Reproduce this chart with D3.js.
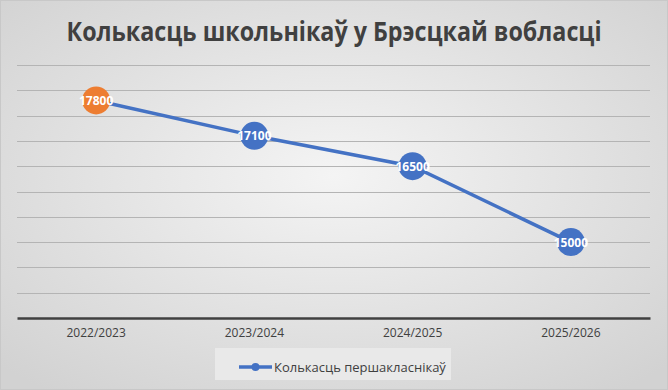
<!DOCTYPE html>
<html>
<head>
<meta charset="utf-8">
<script src="https://cdn.jsdelivr.net/npm/d3@7"></script>
<style>
  body { margin: 0; }
  svg { display: block; }
</style>
</head>
<body>
<svg id="chart" width="668" height="390"></svg>
<script>
const years = ['2022/2023', '2023/2024', '2024/2025', '2025/2026'];
const pupils = [17800, 17100, 16500, 15000];
const yTicks = [13500, 14000, 14500, 15000, 15500, 16000, 16500, 17000, 17500, 18000, 18500];
const seriesName = 'Колькасць першакласнікаў';
const title = 'Колькасць школьнікаў у Брэсцкай вобласці';

const svg = d3.select('#chart');
const W = +svg.attr('width'), H = +svg.attr('height');
const margin = {top: 65, right: 18, bottom: 72, left: 17};

const defs = svg.append('defs');
const grad = defs.append('radialGradient').attr('id', 'bg')
  .attr('cx', '50%').attr('cy', '45%').attr('r', '70%');
grad.append('stop').attr('offset', '0%').attr('stop-color', '#f4f4f4');
grad.append('stop').attr('offset', '100%').attr('stop-color', '#d2d2d2');

svg.append('rect').attr('x', 0.5).attr('y', 0.5).attr('width', W - 1).attr('height', H - 1)
  .attr('fill', 'url(#bg)').attr('stroke', '#c8c8c8');

svg.append('text')
  .attr('x', W / 2).attr('y', 41)
  .attr('text-anchor', 'middle')
  .style('font-family', '"Open Sans", "Noto Sans", sans-serif')
  .style('font-weight', 'bold')
  .style('font-size', '26px')
  .attr('textLength', 535).attr('lengthAdjust', 'spacingAndGlyphs')
  .attr('fill', '#404040')
  .text(title);

const x = d3.scaleBand().domain(years).range([margin.left, W - margin.right]);
const y = d3.scaleLinear().domain([13500, 18500]).range([H - margin.bottom, margin.top]);

// gridlines
svg.append('g').selectAll('line')
  .data(yTicks.slice(1))
  .enter().append('line')
  .attr('x1', margin.left).attr('x2', W - margin.right)
  .attr('y1', d => Math.round(y(d)) + 0.5).attr('y2', d => Math.round(y(d)) + 0.5)
  .attr('stroke', '#b4b4b4').attr('stroke-width', 1);

// x axis
const xAxis = svg.append('g')
  .attr('transform', 'translate(0,' + y(13500) + ')')
  .call(d3.axisBottom(x).tickSize(0).tickPadding(10));
xAxis.select('.domain').attr('stroke', '#404040').attr('stroke-width', 2.5);
xAxis.selectAll('text')
  .style('font-family', '"Open Sans", "Noto Sans", sans-serif')
  .style('font-size', '12px')
  .attr('fill', '#404040');

const cx = d => x(d) + x.bandwidth() / 2;

const line = d3.line().x((d, i) => cx(years[i])).y(d => y(d));
svg.append('path').datum(pupils)
  .attr('d', line).attr('fill', 'none')
  .attr('stroke', '#4472c4').attr('stroke-width', 3.5);

svg.append('g').selectAll('circle')
  .data(pupils)
  .enter().append('circle')
  .attr('cx', (d, i) => cx(years[i]))
  .attr('cy', d => y(d))
  .attr('r', 14)
  .attr('fill', (d, i) => i === 0 ? '#ed7d31' : '#4472c4');

svg.append('g').selectAll('text')
  .data(pupils)
  .enter().append('text')
  .attr('x', (d, i) => cx(years[i]))
  .attr('y', d => y(d) + 4.5)
  .attr('text-anchor', 'middle')
  .style('font-family', '"Open Sans", "Noto Sans", sans-serif')
  .style('font-weight', 'bold')
  .style('font-size', '12px')
  .attr('fill', '#ffffff')
  .text(d => d);

// legend
const lg = svg.append('g');
lg.append('rect').attr('x', 215).attr('y', 348).attr('width', 236).attr('height', 32)
  .attr('fill', '#e9e9e9');
lg.append('line').attr('x1', 239).attr('x2', 272).attr('y1', 367).attr('y2', 367)
  .attr('stroke', '#4472c4').attr('stroke-width', 3.5);
lg.append('circle').attr('cx', 255.5).attr('cy', 367).attr('r', 4).attr('fill', '#4472c4');
lg.append('text').attr('x', 274).attr('y', 372)
  .style('font-family', '"Open Sans", "Noto Sans", sans-serif')
  .style('font-size', '13px')
  .attr('fill', '#404040')
  .text(seriesName);
</script>
</body>
</html>
